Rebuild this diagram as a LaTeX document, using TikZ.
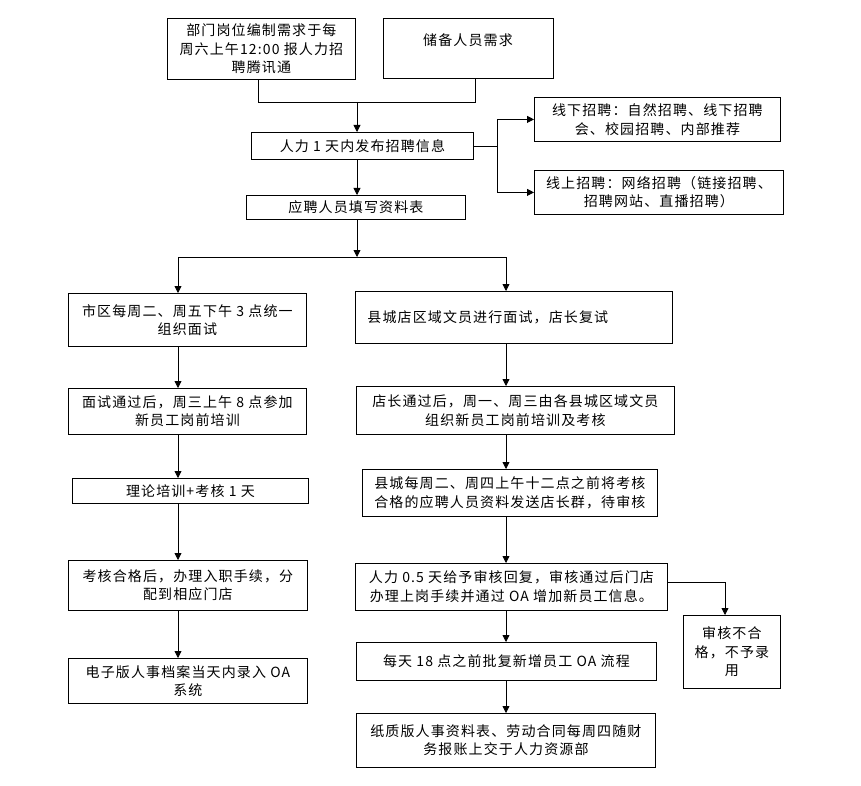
\documentclass[tikz,border=0pt]{standalone}
\usepackage{fontspec}
\setmainfont{Noto Sans CJK SC}[LetterSpace=8]
\usetikzlibrary{arrows.meta}
\begin{document}
\begin{tikzpicture}[x=1pt,y=-1pt,
  box/.style={draw, line width=0.8pt, inner sep=0pt, align=center, anchor=north west,
    font=\fontsize{14}{18.5}\selectfont},
  txt/.style={inner sep=0pt, align=center, font=\fontsize{14}{18.5}\selectfont},
  ln/.style={line width=0.8pt},
  arr/.style={line width=0.8pt, -{Triangle[length=7pt,width=7pt]}}]
\useasboundingbox (0,0) rectangle (861,786);
% helper coordinates for connector columns
\coordinate (M) at (357,0);
\coordinate (L) at (178,0);
\coordinate (R) at (506,0);
\coordinate (N) at (725,0);
% top
\node[box, minimum width=188pt, minimum height=61pt] (b1) at (167,18) {部门岗位编制需求于每\\周六上午12:00 报人力招\\聘腾讯通};
\node[box, minimum width=170pt, minimum height=60pt] (b2) at (383,18) {};
\node[txt] (b2t) at (468,40) {储备人员需求};
\node[box, minimum width=222pt, minimum height=27pt] (b3) at (251,132) {人力 1 天内发布招聘信息};
\node[box, minimum width=219pt, minimum height=24pt] (b4) at (246,195) {应聘人员填写资料表};
\node[box, minimum width=246pt, minimum height=44pt] (b5) at (534,97) {线下招聘：自然招聘、线下招聘\\会、校园招聘、内部推荐};
\node[box, minimum width=249pt, minimum height=44pt] (b6) at (534,170) {线上招聘：网络招聘（链接招聘、\\招聘网站、直播招聘）};
% left column
\node[box, minimum width=238pt, minimum height=53pt] (b7) at (68,293) {市区每周二、周五下午 3 点统一\\组织面试};
\node[box, minimum width=238pt, minimum height=46pt] (b8) at (68,388) {面试通过后，周三上午 8 点参加\\新员工岗前培训};
\node[box, minimum width=236pt, minimum height=25pt] (b9) at (72,478) {理论培训+考核 1 天};
\node[box, minimum width=239pt, minimum height=50pt] (b10) at (68,560) {考核合格后，办理入职手续，分\\配到相应门店};
\node[box, minimum width=239pt, minimum height=45pt] (b11) at (68,658) {电子版人事档案当天内录入 OA\\系统};
% right column
\node[box, minimum height=52pt, text width=293pt, inner xsep=12pt, align=left] (b12) at (355,291) {县城店区域文员进行面试，店长复试};
\node[box, minimum width=318pt, minimum height=48pt] (b13) at (356,386) {店长通过后，周一、周三由各县城区域文员\\组织新员工岗前培训及考核};
\node[box, minimum width=295pt, minimum height=47pt] (b14) at (362,469) {县城每周二、周四上午十二点之前将考核\\合格的应聘人员资料发送店长群，待审核};
\node[box, minimum width=312pt, minimum height=47pt] (b15) at (355,563) {人力 0.5 天给予审核回复，审核通过后门店\\办理上岗手续并通过 OA 增加新员工信息。};
\node[box, minimum width=300pt, minimum height=38pt] (b16) at (356,642) {每天 18 点之前批复新增员工 OA 流程};
\node[box, minimum width=299pt, minimum height=54pt] (b18) at (356,713) {纸质版人事资料表、劳动合同每周四随财\\务报账上交于人力资源部};
\node[box, minimum width=97pt, minimum height=73pt] (b17) at (683,615) {审核不合\\格，不予录\\用};
% connectors top
\coordinate (j1) at (258,102);
\coordinate (j2) at (475,102);
\draw[ln] (b1.south -| j1) -- (j1) -- (j2) -- (b2.south -| j2);
\draw[arr] (M |- j1) -- (b3.north -| M);
\draw[arr] (b3.south -| M) -- (b4.north -| M);
\coordinate (k) at (497,146);
\draw[ln] (b3.east |- k) -- (k);
\draw[arr] (k) |- (b5.west);
\draw[arr] (k) |- (b6.west);
% split
\coordinate (s) at (357,257);
\draw[arr] (b4.south -| M) -- (s);
\draw[ln] (s -| L) -- (s -| R);
\draw[arr] (s -| L) -- (b7.north -| L);
\draw[arr] (s -| R) -- (b12.north -| R);
% left column
\draw[arr] (b7.south -| L) -- (b8.north -| L);
\draw[arr] (b8.south -| L) -- (b9.north -| L);
\draw[arr] (b9.south -| L) -- (b10.north -| L);
\draw[arr] (b10.south -| L) -- (b11.north -| L);
% right column
\draw[arr] (b12.south -| R) -- (b13.north -| R);
\draw[arr] (b13.south -| R) -- (b14.north -| R);
\draw[arr] (b14.south -| R) -- (b15.north -| R);
\draw[arr] (b15.south -| R) -- (b16.north -| R);
\draw[arr] (b16.south -| R) -- (b18.north -| R);
\coordinate (q) at (725,582);
\draw[ln] (b15.east |- q) -- (q);
\draw[arr] (q) -- (b17.north -| N);
\end{tikzpicture}
\end{document}
